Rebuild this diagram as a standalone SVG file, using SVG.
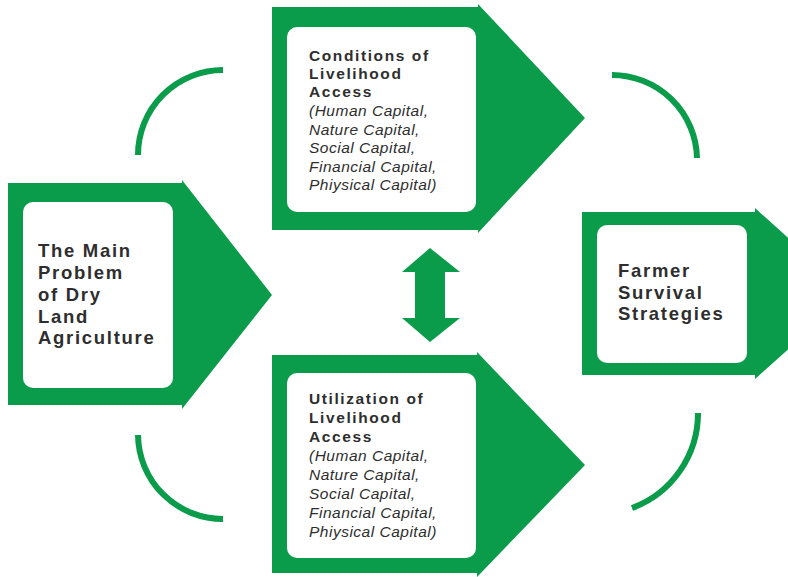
<svg xmlns="http://www.w3.org/2000/svg" width="788" height="577" viewBox="0 0 788 577">
  <style>
    .frame { fill: #0A9C4A; }
    .panel { fill: #FFFFFF; }
    .title { font-family: "Liberation Sans", Arial, sans-serif; font-weight: bold; fill: #2E2E2E; }
    .big { font-size: 18.5px; letter-spacing: 1.7px; }
    .small { font-size: 15.5px; letter-spacing: 1.6px; }
    .list { font-family: "Liberation Sans", Arial, sans-serif; font-style: italic; font-size: 15.5px; letter-spacing: 0.5px; fill: #2E2E2E; }
    .arc { fill: none; stroke: #0A9C4A; stroke-width: 6; }
    .dbl { fill: #0A9C4A; }
  </style>

  <rect width="788" height="577" fill="#FFFFFF"/>

  <!-- cycle arcs and the two-way arrow between the access boxes -->
  <g id="connectors">
    <path class="arc" d="M138,155 A85,85 0 0 1 223,70"/>
    <path class="arc" d="M612,75 A85,85 0 0 1 697,158"/>
    <path class="arc" d="M138,435 A85,85 0 0 0 223,519"/>
    <path class="arc" d="M698,413 A101,101 0 0 1 632,508"/>
    <polygon class="dbl" points="430,248 460,272 445,272 445,318 460,318 430,342 402,318 415,318 415,272 402,272"/>
  </g>

  <g id="main-problem">
    <polygon class="frame" points="8,183 182,183 182,180 272,295 182,409 182,405 8,405"/>
    <rect class="panel" x="23" y="202" width="150" height="186" rx="10"/>
    <text class="title big">
      <tspan x="38" y="257">The Main</tspan>
      <tspan x="38" y="279">Problem</tspan>
      <tspan x="38" y="301">of Dry</tspan>
      <tspan x="38" y="323">Land</tspan>
      <tspan x="38" y="344">Agriculture</tspan>
    </text>
  </g>

  <g id="conditions">
    <polygon class="frame" points="272,7 478,7 478,4 585,118 478,233 478,230 272,230"/>
    <rect class="panel" x="287" y="27" width="189" height="185" rx="10"/>
    <text class="title small">
      <tspan x="309" y="61">Conditions of</tspan>
      <tspan x="309" y="79">Livelihood</tspan>
      <tspan x="309" y="97">Access</tspan>
    </text>
    <text class="list">
      <tspan x="309" y="116">(Human Capital,</tspan>
      <tspan x="309" y="134.5">Nature Capital,</tspan>
      <tspan x="309" y="153">Social Capital,</tspan>
      <tspan x="309" y="171.5">Financial Capital,</tspan>
      <tspan x="309" y="190">Phiysical Capital)</tspan>
    </text>
  </g>

  <g id="utilization">
    <polygon class="frame" points="272,355 477,355 477,352 585,465 477,577 477,573 272,573"/>
    <rect class="panel" x="287" y="373" width="189" height="185" rx="10"/>
    <text class="title small">
      <tspan x="309" y="404">Utilization of</tspan>
      <tspan x="309" y="423">Livelihood</tspan>
      <tspan x="309" y="442">Access</tspan>
    </text>
    <text class="list">
      <tspan x="309" y="461">(Human Capital,</tspan>
      <tspan x="309" y="480">Nature Capital,</tspan>
      <tspan x="309" y="499">Social Capital,</tspan>
      <tspan x="309" y="518">Financial Capital,</tspan>
      <tspan x="309" y="537">Phiysical Capital)</tspan>
    </text>
  </g>

  <g id="survival-strategies">
    <polygon class="frame" points="582,212 755,212 755,208 850,294 755,379 755,375 582,375"/>
    <rect class="panel" x="597" y="225" width="150" height="138" rx="10"/>
    <text class="title big">
      <tspan x="618" y="277">Farmer</tspan>
      <tspan x="618" y="299">Survival</tspan>
      <tspan x="618" y="320">Strategies</tspan>
    </text>
  </g>
</svg>
